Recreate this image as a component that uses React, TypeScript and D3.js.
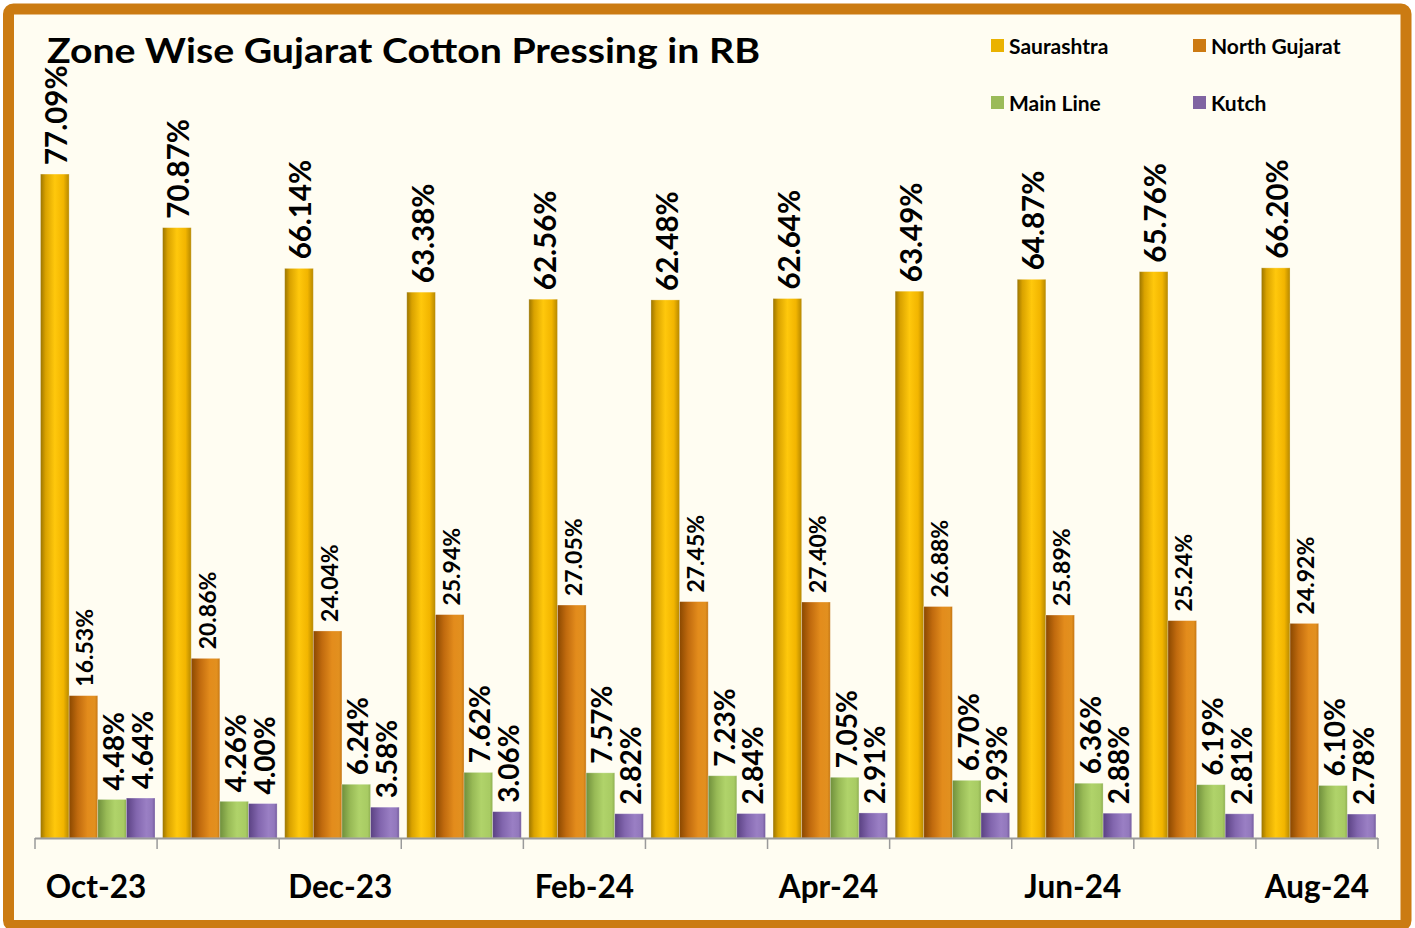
import React from "react";
import * as d3 from "d3";

const months = ["Oct-23", "Nov-23", "Dec-23", "Jan-24", "Feb-24", "Mar-24", "Apr-24", "May-24", "Jun-24", "Jul-24", "Aug-24"];
const shownMonths = ["Oct-23", "Dec-23", "Feb-24", "Apr-24", "Jun-24", "Aug-24"];
const seriesNames = ["Saurashtra", "North Gujarat", "Main Line", "Kutch"];
const saurashtra = [77.09, 70.87, 66.14, 63.38, 62.56, 62.48, 62.64, 63.49, 64.87, 65.76, 66.2];
const northGujarat = [16.53, 20.86, 24.04, 25.94, 27.05, 27.45, 27.4, 26.88, 25.89, 25.24, 24.92];
const mainLine = [4.48, 4.26, 6.24, 7.62, 7.57, 7.23, 7.05, 6.7, 6.36, 6.19, 6.1];
const kutch = [4.64, 4.0, 3.58, 3.06, 2.82, 2.84, 2.91, 2.93, 2.88, 2.81, 2.78];
const seriesValues = [saurashtra, northGujarat, mainLine, kutch];

const W = 1415;
const H = 928;
const FONT = "Lato, 'Open Sans', sans-serif";

const legendColors = ["#EAB200", "#CC7A12", "#9BBB59", "#8064A2"];
const gradients = [
  [["0", "#9A7400"], ["0.18", "#D9A200"], ["0.5", "#FFC80C"], ["0.8", "#F2B500"], ["1", "#B68800"]],
  [["0", "#8A4800"], ["0.3", "#C06A0E"], ["0.65", "#E38C1C"], ["0.9", "#E2901F"], ["1", "#C47512"]],
  [["0", "#6F8F3C"], ["0.3", "#98BA56"], ["0.6", "#B0D36A"], ["0.9", "#A8CB63"], ["1", "#8EAE50"]],
  [["0", "#5A4182"], ["0.35", "#8266AE"], ["0.7", "#9A7FC4"], ["0.9", "#9278BC"], ["1", "#735A9C"]],
];
const labelSizes = [29.5, 23, 28, 28];

export default function App() {
  const x = d3.scaleBand<string>().domain(months).range([35, 1378]).paddingInner(0).paddingOuter(0);
  const inner = d3.scaleBand<number>().domain([0, 1, 2, 3]).range([5.5, 120]).paddingInner(0).paddingOuter(0);
  const y = d3.scaleLinear().domain([0, 80]).range([838, 149]);
  const baseY = y(0);
  const boundaries = [...months.map((m) => x(m) as number), 1378];

  return (
    <svg width={W} height={H} style={{ position: "absolute", left: 0, top: 0 }} xmlns="http://www.w3.org/2000/svg">
      <defs>
        {gradients.map((g, i) => (
          <linearGradient key={i} id={`g${i}`} x1="0" x2="1" y1="0" y2="0">
            {g.map(([o, c]) => (
              <stop key={o} offset={o} stopColor={c} />
            ))}
          </linearGradient>
        ))}
      </defs>
      <rect x={0} y={0} width={W} height={H} fill="#ffffff" />
      <rect x={8.5} y={9} width={1397.5} height={916.5} rx={5} fill="#FFFDF2" stroke="#CB7B12" strokeWidth={11} />

      <text x={47} y={63} fontFamily={FONT} fontWeight={700} fontSize={35} fill="#000" textLength={713} lengthAdjust="spacingAndGlyphs">
        Zone Wise Gujarat Cotton Pressing in RB
      </text>

      {seriesNames.map((s, i) => {
        const lx = i % 2 === 0 ? 991 : 1193;
        const ly = i < 2 ? 39 : 96;
        return (
          <g key={s}>
            <rect x={lx} y={ly} width={13} height={13} fill={legendColors[i]} />
            <text x={lx + 18} y={ly + 6.5} dominantBaseline="central" fontFamily={FONT} fontWeight={700} fontSize={21} fill="#000">
              {s}
            </text>
          </g>
        );
      })}

      {months.map((m, mi) => (
        <g key={m}>
          {seriesValues.map((vals, si) => {
            const bx = (x(m) as number) + (inner(si) as number);
            const bw = inner.bandwidth();
            const top = y(vals[mi]);
            return (
              <g key={si}>
                <rect x={bx} y={top} width={bw} height={baseY - top} fill={`url(#g${si})`} stroke="rgba(255,255,255,0.35)" strokeWidth={0.8} />
                <text
                  transform={`translate(${bx + bw / 2 + 1},${top - 9}) rotate(-90)`}
                  textAnchor="start"
                  dominantBaseline="central"
                  fontFamily={FONT}
                  fontWeight={700}
                  fontSize={labelSizes[si]}
                  fill="#000"
                >
                  {vals[mi].toFixed(2) + "%"}
                </text>
              </g>
            );
          })}
        </g>
      ))}

      <line x1={35} x2={1378} y1={baseY + 0.5} y2={baseY + 0.5} stroke="#9A9A9A" strokeWidth={2} />
      {boundaries.map((bx, i) => (
        <line key={i} x1={bx} x2={bx} y1={baseY} y2={baseY + 11} stroke="#9A9A9A" strokeWidth={1.5} />
      ))}
      {shownMonths.map((m) => (
        <text
          key={m}
          x={(x(m) as number) + x.bandwidth() / 2}
          y={886}
          textAnchor="middle"
          dominantBaseline="central"
          fontFamily={FONT}
          fontWeight={700}
          fontSize={31.5}
          fill="#000"
        >
          {m}
        </text>
      ))}
    </svg>
  );
}
